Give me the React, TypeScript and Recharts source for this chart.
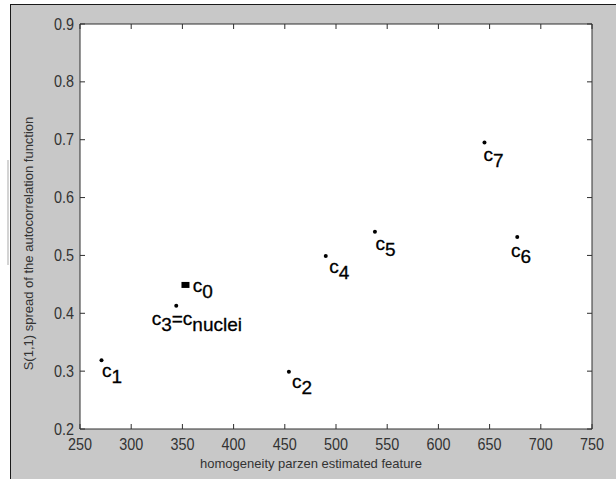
import React from "react";
import { ScatterChart, Scatter, XAxis, YAxis, Label, CartesianGrid } from "recharts";

// ---- data ----
const pointNames = ["c0", "c1", "c2", "c3", "c4", "c5", "c6", "c7"];
const pointX = [353, 271, 454, 344, 490, 538, 677, 645];
const pointY = [0.449, 0.319, 0.299, 0.413, 0.499, 0.541, 0.532, 0.695];
const centroidName = "c0";

const labelTexts = ["c_0", "c_1", "c_2", "c_3=c_{nuclei}", "c_4", "c_5", "c_6", "c_7"];
const labelX = [360, 271.5, 457, 320, 493.5, 538.5, 671, 644];
const labelY = [0.437, 0.29, 0.271, 0.38, 0.47, 0.509, 0.498, 0.663];

const xTicks = [250, 300, 350, 400, 450, 500, 550, 600, 650, 700, 750];
const yTicks = [0.2, 0.3, 0.4, 0.5, 0.6, 0.7, 0.8, 0.9];
const xTitle = "homogeneity parzen estimated feature";
const yTitle = "S(1,1) spread of the autocorrelation function";

// ---- derived tables ----
const points = pointNames.map((n, i) => ({ name: n, x: pointX[i], y: pointY[i] }));
const labels = labelTexts.map((t, i) => ({ text: t, x: labelX[i], y: labelY[i] }));

const AXIS = "#2e2e2e";
const TICKTXT = "#333333";
const FONT = "'Liberation Sans', Arial, Helvetica, sans-serif";

const condensedLen = (s: string) => {
  let w = 0;
  for (const ch of s) w += ch === "." ? 4 : 8;
  return w;
};

const parseLabel = (s: string) => {
  const segs: { t: string; sub: boolean }[] = [];
  let i = 0;
  let cur = "";
  while (i < s.length) {
    if (s[i] === "_") {
      if (cur) segs.push({ t: cur, sub: false });
      cur = "";
      i++;
      if (s[i] === "{") {
        const end = s.indexOf("}", i);
        segs.push({ t: s.slice(i + 1, end), sub: true });
        i = end + 1;
      } else {
        segs.push({ t: s[i], sub: true });
        i++;
      }
    } else {
      cur += s[i];
      i++;
    }
  }
  if (cur) segs.push({ t: cur, sub: false });
  return segs;
};

const BottomTick = (p: any) => {
  const { x, y, payload } = p;
  const s = String(payload.value);
  return (
    <g>
      <line x1={x} x2={x} y1={y} y2={y - 5} stroke={AXIS} strokeWidth={1} />
      <text
        x={x - condensedLen(s) / 2}
        y={y + 15}
        dominantBaseline="central"
        fontFamily={FONT}
        fontSize={17}
        fill={TICKTXT}
        textLength={condensedLen(s)}
        lengthAdjust="spacingAndGlyphs"
      >
        {s}
      </text>
    </g>
  );
};
const LeftTick = (p: any) => {
  const { x, y, payload } = p;
  const s = Number(payload.value).toFixed(1);
  return (
    <g>
      <line x1={x} x2={x + 5} y1={y} y2={y} stroke={AXIS} strokeWidth={1} />
      <text
        x={x - 6 - condensedLen(s)}
        y={y}
        dominantBaseline="central"
        fontFamily={FONT}
        fontSize={17}
        fill={TICKTXT}
        textLength={condensedLen(s)}
        lengthAdjust="spacingAndGlyphs"
      >
        {s}
      </text>
    </g>
  );
};
const TopTick = (p: any) => {
  const { x, y } = p;
  return <line x1={x} x2={x} y1={y} y2={y + 5} stroke={AXIS} strokeWidth={1} />;
};
const RightTick = (p: any) => {
  const { x, y } = p;
  return <line x1={x} x2={x - 5} y1={y} y2={y} stroke={AXIS} strokeWidth={1} />;
};

const PointShape = (p: any) => {
  const { cx, cy, payload } = p;
  if (payload.name === centroidName) {
    return <rect x={cx - 4} y={cy - 3} width={8} height={6} fill="#000" />;
  }
  return <circle cx={cx} cy={cy} r={2} fill="#000" />;
};

const LabelShape = (p: any) => {
  const { cx, cy, payload } = p;
  const segs = parseLabel(payload.text);
  let prevSub = false;
  return (
    <text x={cx} y={cy} fontFamily={FONT} fontSize={19} fill="#000" stroke="#000" strokeWidth={0.3}>
      {segs.map((s, i) => {
        let dy = 0;
        if (s.sub && !prevSub) dy = 6;
        if (!s.sub && prevSub) dy = -6;
        prevSub = s.sub;
        return (
          <tspan key={i} dy={dy}>
            {s.t}
          </tspan>
        );
      })}
    </text>
  );
};

export default function App() {
  return (
    <div style={{ position: "absolute", left: 0, top: 0, width: 616, height: 479, background: "#fff", overflow: "hidden" }}>
      <div
        style={{
          position: "absolute",
          left: 10,
          top: 4,
          width: 606,
          height: 475,
          background: "#c8c8c8",
          borderLeft: "1px solid #1a1a1a",
          borderTop: "1px solid #1a1a1a",
          boxSizing: "border-box",
        }}
      />
      <div style={{ position: "absolute", left: 7, top: 160, width: 2, height: 105, background: "#d4d4d4" }} />
      <div style={{ position: "absolute", left: 0, top: 0 }}>
        <ScatterChart width={616} height={479} margin={{ top: 0, right: 0, bottom: 0, left: 0 }}>
          <CartesianGrid fill="#ffffff" horizontal={false} vertical={false} stroke="none" />
          <XAxis
            xAxisId="b"
            type="number"
            dataKey="x"
            orientation="bottom"
            domain={[250, 750]}
            ticks={xTicks}
            height={50}
            tickSize={0}
            tickMargin={0}
            tickLine={false}
            axisLine={{ stroke: AXIS, strokeWidth: 1 }}
            tick={<BottomTick />}
            interval={0}
            allowDataOverflow
          >
            <Label
              content={(props: any) => {
                const vb = props.viewBox || { x: 80, y: 429, width: 512 };
                return (
                  <text x={vb.x + vb.width / 2 - 25} y={vb.y + 34} textAnchor="middle" dominantBaseline="central" fontFamily={FONT} fontSize={13} fill="#333">
                    {xTitle}
                  </text>
                );
              }}
            />
          </XAxis>
          <XAxis
            xAxisId="t"
            type="number"
            dataKey="x"
            orientation="top"
            domain={[250, 750]}
            ticks={xTicks}
            height={24}
            tickSize={0}
            tickMargin={0}
            tickLine={false}
            axisLine={{ stroke: AXIS, strokeWidth: 1 }}
            tick={<TopTick />}
            interval={0}
            allowDataOverflow
          />
          <YAxis
            yAxisId="l"
            type="number"
            dataKey="y"
            orientation="left"
            domain={[0.2, 0.9]}
            ticks={yTicks}
            width={80}
            tickSize={0}
            tickMargin={0}
            tickLine={false}
            axisLine={{ stroke: AXIS, strokeWidth: 1 }}
            tick={<LeftTick />}
            interval={0}
            allowDataOverflow
          >
            <Label
              content={(props: any) => {
                const vb = props.viewBox || { x: 0, y: 24, height: 405 };
                const cx = vb.x + 28;
                const cy = vb.y + vb.height / 2 + 17;
                return (
                  <text x={cx} y={cy} transform={`rotate(-90, ${cx}, ${cy})`} textAnchor="middle" dominantBaseline="central" fontFamily={FONT} fontSize={13} fill="#333">
                    {yTitle}
                  </text>
                );
              }}
            />
          </YAxis>
          <YAxis
            yAxisId="r"
            type="number"
            dataKey="y"
            orientation="right"
            domain={[0.2, 0.9]}
            ticks={yTicks}
            width={24}
            tickSize={0}
            tickMargin={0}
            tickLine={false}
            axisLine={{ stroke: AXIS, strokeWidth: 1 }}
            tick={<RightTick />}
            interval={0}
            allowDataOverflow
          />
          <Scatter data={points} xAxisId="t" yAxisId="r" shape={() => <g />} isAnimationActive={false} />
          <Scatter data={labels} xAxisId="b" yAxisId="l" shape={<LabelShape />} isAnimationActive={false} />
          <Scatter data={points} xAxisId="b" yAxisId="l" shape={<PointShape />} isAnimationActive={false} />
        </ScatterChart>
      </div>
    </div>
  );
}
